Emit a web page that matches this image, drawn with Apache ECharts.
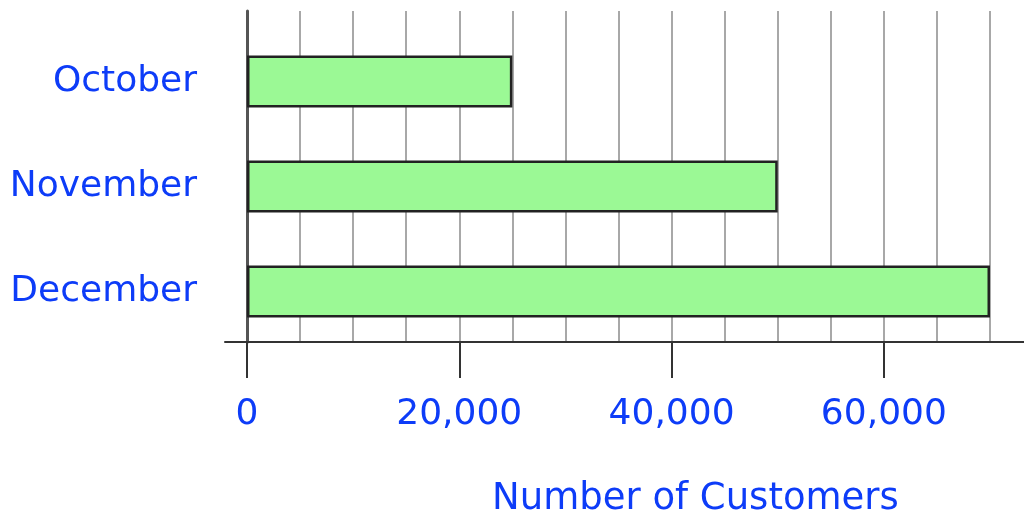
<!DOCTYPE html>
<html>
<head>
<meta charset="utf-8">
<script src="https://cdn.jsdelivr.net/npm/echarts@6/dist/echarts.min.js"></script>
<style>
  html, body { margin: 0; padding: 0; background: #fff; }
  #main { width: 1024px; height: 523px; }
</style>
</head>
<body>
<div id="main"></div>
<script>
// data
var months = ['October', 'November', 'December'];
var customers = [25000, 50000, 70000];
var gridStep = 5000;
var labelStep = 20000;
var axisMax = 70000;
var axisTitle = 'Number of Customers';

var blue = '#0d3cf8';
var font = 'DejaVu Sans';

var echart = echarts.init(document.getElementById('main'));

var option = {
    animation: false,
    title: {
        text: axisTitle,
        left: 487,
        top: 476,
        textStyle: { color: blue, fontFamily: font, fontSize: 37, fontWeight: 'normal' }
    },
    grid: [
        // gridlines every 5,000
        { left: 247, right: 34, top: 11, bottom: 181 },
        // grid with the bars
        { left: 247, right: 34, top: 29, bottom: 179 },
        // wider grid only for the long axis line
        { left: 225, right: 0, top: 11, bottom: 181 },
        // ticks and labels every 20,000
        { left: 247, right: 34, top: 11, bottom: 181 }
    ],
    xAxis: [
        {
            gridIndex: 0,
            type: 'value',
            min: 0,
            max: axisMax,
            interval: gridStep,
            axisLine: { show: false },
            axisTick: { show: false },
            axisLabel: { show: false },
            splitLine: { show: true, lineStyle: { color: '#a8a8a8', width: 2 } }
        },
        {
            gridIndex: 1,
            type: 'value',
            min: 0,
            max: axisMax,
            show: false
        },
        {
            gridIndex: 2,
            type: 'value',
            min: 0,
            max: 1,
            axisLine: { show: true, lineStyle: { color: '#333', width: 2 } },
            axisTick: { show: false },
            axisLabel: { show: false },
            splitLine: { show: false }
        },
        {
            gridIndex: 3,
            type: 'value',
            min: 0,
            max: axisMax,
            interval: labelStep,
            axisLine: { show: false },
            axisTick: {
                show: true,
                length: 36,
                lineStyle: { color: '#333', width: 2 }
            },
            splitLine: { show: false },
            axisLabel: {
                margin: 55,
                showMaxLabel: false,
                color: blue,
                fontFamily: font,
                fontSize: 36,
                formatter: function (v) { return v.toLocaleString('en-US'); }
            }
        }
    ],
    yAxis: [
        {
            gridIndex: 0,
            type: 'value',
            axisLine: { show: true, lineStyle: { color: '#555', width: 3 } },
            axisTick: { show: false },
            axisLabel: { show: false },
            splitLine: { show: false }
        },
        {
            gridIndex: 1,
            type: 'category',
            inverse: true,
            data: months,
            axisLine: { show: false },
            axisTick: { show: false },
            axisLabel: {
                margin: 50,
                color: blue,
                fontFamily: font,
                fontSize: 36
            }
        },
        {
            gridIndex: 2,
            type: 'value',
            show: false
        },
        {
            gridIndex: 3,
            type: 'value',
            show: false
        }
    ],
    series: [
        {
            type: 'bar',
            xAxisIndex: 1,
            yAxisIndex: 1,
            data: customers,
            barWidth: 52,
            z: 3,
            itemStyle: {
                color: '#9bf995',
                borderColor: '#222',
                borderWidth: 2.5
            }
        }
    ]
};

echart.setOption(option);
</script>
</body>
</html>
